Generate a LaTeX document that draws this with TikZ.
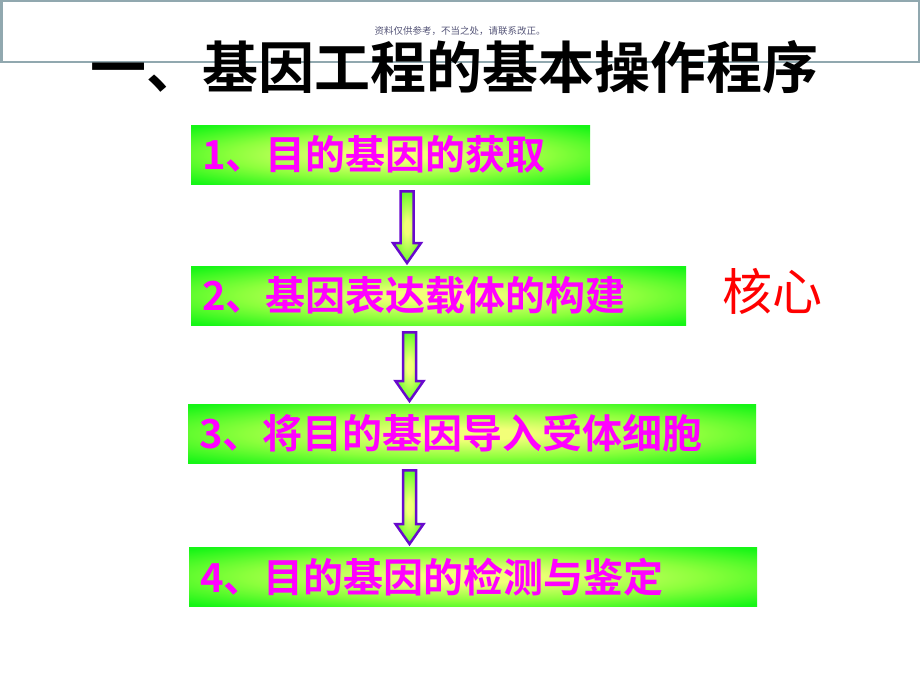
\documentclass[tikz,border=0pt]{standalone}
\usepackage{fontspec}
\newfontfamily\cjk[BoldFont={Noto Sans CJK SC Bold}]{Noto Sans CJK SC}
\usetikzlibrary{positioning,calc}

\definecolor{glowgreen}{RGB}{22,245,22}
\definecolor{glowmid}{RGB}{140,255,60}
\definecolor{glowyellow}{RGB}{242,255,120}
\definecolor{framegray}{RGB}{145,168,175}
\definecolor{arrowpurple}{RGB}{105,10,205}
\definecolor{notegray}{RGB}{85,85,120}
\definecolor{steppink}{RGB}{255,0,255}
\definecolor{corered}{RGB}{255,0,0}

\pgfdeclareradialshading{boxglow}{\pgfpoint{0bp}{0bp}}{color(0bp)=(glowyellow); color(5bp)=(glowyellow); color(20bp)=(glowmid); color(34bp)=(glowgreen); color(50bp)=(glowgreen)}

% block arrow from the bottom of one step to the top of the next
\newcommand{\flowarrow}[3]{%
	\draw[flowarrow] let \p1=(#2.south), \p2=(#3.north) in
		(#1pt-6.5pt,\y1-7pt) -- (#1pt+6.5pt,\y1-7pt) -- (#1pt+6.5pt,\y2+23pt) -- (#1pt+14pt,\y2+23pt)
		-- (#1pt,\y2+3pt) -- (#1pt-14pt,\y2+23pt) -- (#1pt-6.5pt,\y2+23pt) -- cycle;}

\begin{document}
\begin{tikzpicture}[x=1pt,y=-1pt,font=\cjk]
	\tikzstyle{stepbox}=[rectangle,shading=boxglow,anchor=north west,minimum height=59pt,inner xsep=11pt,inner ysep=0pt,align=left,text=steppink,font=\cjk\bfseries\fontsize{40}{44}\selectfont]
	\tikzstyle{flowarrow}=[draw=arrowpurple,line width=2.5pt,line join=miter,shading=boxglow]

	\useasboundingbox (0,0) rectangle (920,690);
	\fill[white] (0,0) rectangle (920,690);

	%header
	\draw[framegray,line width=2.5pt] (1.25,1.25) rectangle (918.75,62);
	\node[text=notegray,font=\cjk\fontsize{9.5}{11}\selectfont] (note) at (460,31) {资料仅供参考，不当之处，请联系改正。};
	\node[font=\cjk\bfseries\fontsize{56}{60}\selectfont] (title) at (454,67) {一、基因工程的基本操作程序};

	%steps
	\node[stepbox,text width=377pt] (getGene) at (191,125) {1、目的基因的获取};
	\node[stepbox,text width=473pt] (buildVector) at (191,266) {2、基因表达载体的构建};
	\node[stepbox,text width=546pt] (intoCell) at (188,404) {3、将目的基因导入受体细胞};
	\node[stepbox,text width=546pt] (checkGene) at (189,547) {4、目的基因的检测与鉴定};

	\node[text=corered,font=\cjk\fontsize{50}{54}\selectfont] (core) at (772,291) {核心};

	%arrows
	\flowarrow{407}{getGene}{buildVector}
	\flowarrow{409.5}{buildVector}{intoCell}
	\flowarrow{409.5}{intoCell}{checkGene}

\end{tikzpicture}
\end{document}
